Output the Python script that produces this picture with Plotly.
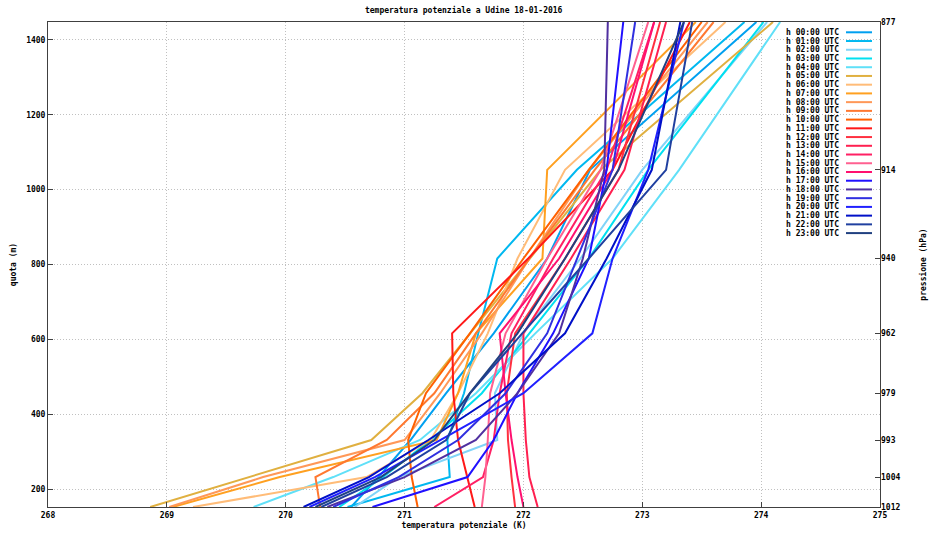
import plotly.graph_objects as go

# model levels: height above sea level (m) and the matching pressure (hPa)
levels_m = [152, 232, 331, 456, 616, 816, 1053, 1448]
levels_hpa = [1012, 1004, 993, 979, 962, 940, 914, 877]

hours = ["h %02d:00 UTC" % h for h in range(24)]

# potential temperature (K) at each level, one profile per hour
theta_00 = [270.55, 270.78, 271.05, 271.35, 271.75, 272.20, 272.56, 273.96]
theta_01 = [270.52, 271.38, 271.36, 271.50, 271.62, 271.78, 272.45, 273.86]
theta_02 = [270.58, 270.95, 271.78, 271.76, 272.00, 272.48, 273.00, 274.05]
theta_03 = [270.45, 270.82, 271.22, 271.65, 272.05, 272.55, 273.05, 274.02]
theta_04 = [269.73, 270.40, 271.13, 271.60, 272.10, 272.75, 273.31, 274.16]
theta_05 = [268.86, 269.70, 270.72, 271.15, 271.55, 272.05, 272.65, 274.10]
theta_06 = [269.22, 270.68, 271.22, 271.45, 271.70, 271.95, 272.35, 273.70]
theta_07 = [269.05, 269.95, 271.27, 271.45, 271.60, 272.16, 272.20, 273.45]
theta_08 = [269.02, 269.81, 271.00, 271.30, 271.65, 272.05, 272.55, 273.55]
theta_09 = [270.29, 270.25, 270.85, 271.25, 271.60, 272.05, 272.60, 273.60]
theta_10 = [271.11, 271.06, 271.03, 271.18, 271.55, 272.00, 272.55, 273.50]
theta_11 = [271.59, 271.53, 271.45, 271.41, 271.40, 272.04, 272.75, 273.40]
theta_12 = [271.93, 271.90, 271.87, 271.86, 271.93, 272.35, 272.80, 273.15]
theta_13 = [272.12, 272.05, 272.02, 272.00, 272.00, 272.40, 272.85, 273.20]
theta_14 = [271.25, 271.66, 271.75, 271.80, 271.90, 272.25, 272.70, 273.10]
theta_15 = [271.65, 271.68, 271.70, 271.72, 271.85, 272.20, 272.65, 273.05]
theta_16 = [272.00, 271.95, 271.90, 271.85, 271.80, 272.30, 272.75, 273.10]
theta_17 = [270.73, 271.53, 271.75, 271.95, 272.25, 272.55, 272.70, 272.84]
theta_18 = [270.35, 271.00, 271.60, 271.95, 272.30, 272.50, 272.68, 272.71]
theta_19 = [270.40, 270.95, 271.45, 271.85, 272.20, 272.45, 272.75, 272.94]
theta_20 = [270.20, 270.75, 271.30, 272.00, 272.58, 272.75, 273.05, 273.35]
theta_21 = [270.15, 270.70, 271.20, 271.80, 272.35, 272.70, 273.08, 273.32]
theta_22 = [270.30, 270.85, 271.35, 271.55, 271.99, 272.55, 273.20, 273.42]
theta_23 = [270.25, 270.80, 271.25, 271.55, 271.95, 272.35, 272.80, 273.35]

profiles = [theta_00, theta_01, theta_02, theta_03, theta_04, theta_05,
            theta_06, theta_07, theta_08, theta_09, theta_10, theta_11,
            theta_12, theta_13, theta_14, theta_15, theta_16, theta_17,
            theta_18, theta_19, theta_20, theta_21, theta_22, theta_23]

colors = ["#00a0f0", "#00b8f0", "#80d4f8", "#00e0f0", "#60e0f8", "#e0b040",
          "#ffbc78", "#ffa020", "#ff9858", "#ff7830", "#ff6000", "#ff1818",
          "#ff3040", "#ff2050", "#ff2064", "#ff6090", "#ff1070", "#2010ff",
          "#5030a0", "#3030e0", "#2020ff", "#0010c8", "#2040a0", "#204080"]

x_ticks = [268, 269, 270, 271, 272, 273, 274, 275]
y_ticks = [200, 400, 600, 800, 1000, 1200, 1400]

FONT = "DejaVu Sans Mono"
AXIS_COLOR = "#404040"
GRID_COLOR = "#c0c0c0"
GRID_DASH = "1px,2px"

fig = go.Figure()
for name, theta, col in zip(hours, profiles, colors):
    fig.add_trace(go.Scatter(x=theta, y=levels_m, mode="lines", name=name,
                             line=dict(color=col, width=2), showlegend=False))

# carrier for the pressure axis on the right
fig.add_trace(go.Scatter(x=[None], y=[None], yaxis="y2", showlegend=False,
                         hoverinfo="skip"))

# legend: right-aligned labels with the line sample after the text
L, R, T, B = 48, 880, 22, 507
W, H = R - L, B - T
annotations = []
shapes = []
for i, (name, col) in enumerate(zip(hours, colors)):
    py = 32.3 + i * 8.73
    yp = 1 - (py - T) / H
    annotations.append(dict(text=name, x=(841 - L) / W, y=yp, xref="paper",
                            yref="paper", xanchor="right", yanchor="middle",
                            showarrow=False,
                            font=dict(family=FONT, size=8, color="#000000",
                                      weight="bold")))
    shapes.append(dict(type="line", xref="paper", yref="paper",
                       x0=(846 - L) / W, x1=(872 - L) / W, y0=yp, y1=yp,
                       line=dict(color=col, width=2)))

axis_font = dict(family=FONT, size=8, color="#000000", weight="bold")

fig.update_layout(
    width=933, height=534,
    margin=dict(l=L, r=933 - R, t=T, b=534 - B),
    paper_bgcolor="white", plot_bgcolor="white",
    title=dict(text="temperatura potenziale a Udine 18-01-2016",
               x=0.497, xanchor="center", y=1 - 10 / 534, yanchor="middle",
               font=axis_font),
    xaxis=dict(range=[268, 275], tickvals=x_ticks, ticks="inside",
               ticklen=5, tickcolor=AXIS_COLOR, tickfont=axis_font,
               showgrid=True, gridcolor=GRID_COLOR, griddash=GRID_DASH,
               gridwidth=1, showline=True, linecolor=AXIS_COLOR,
               linewidth=1, mirror=True, zeroline=False, automargin=False,
               title=dict(text="temperatura potenziale (K)", font=axis_font,
                          standoff=2)),
    yaxis=dict(range=[152, 1448], tickvals=y_ticks, ticks="inside",
               ticklen=5, tickcolor=AXIS_COLOR, tickfont=axis_font,
               showgrid=True, gridcolor=GRID_COLOR, griddash=GRID_DASH,
               gridwidth=1, showline=True, linecolor=AXIS_COLOR,
               linewidth=1, mirror=True, zeroline=False, automargin=False,
               title=dict(text="quota (m)", font=axis_font, standoff=8)),
    yaxis2=dict(range=[152, 1448], overlaying="y", side="right",
                tickvals=levels_m, ticktext=[str(p) for p in levels_hpa],
                ticks="inside", ticklen=5, tickcolor=AXIS_COLOR,
                tickfont=axis_font, showgrid=False, zeroline=False,
                showline=False, automargin=False,
                title=dict(text="pressione (hPa)", font=axis_font,
                           standoff=20)),
    annotations=annotations,
    shapes=shapes,
    showlegend=False,
)

fig.write_html("out.html")
